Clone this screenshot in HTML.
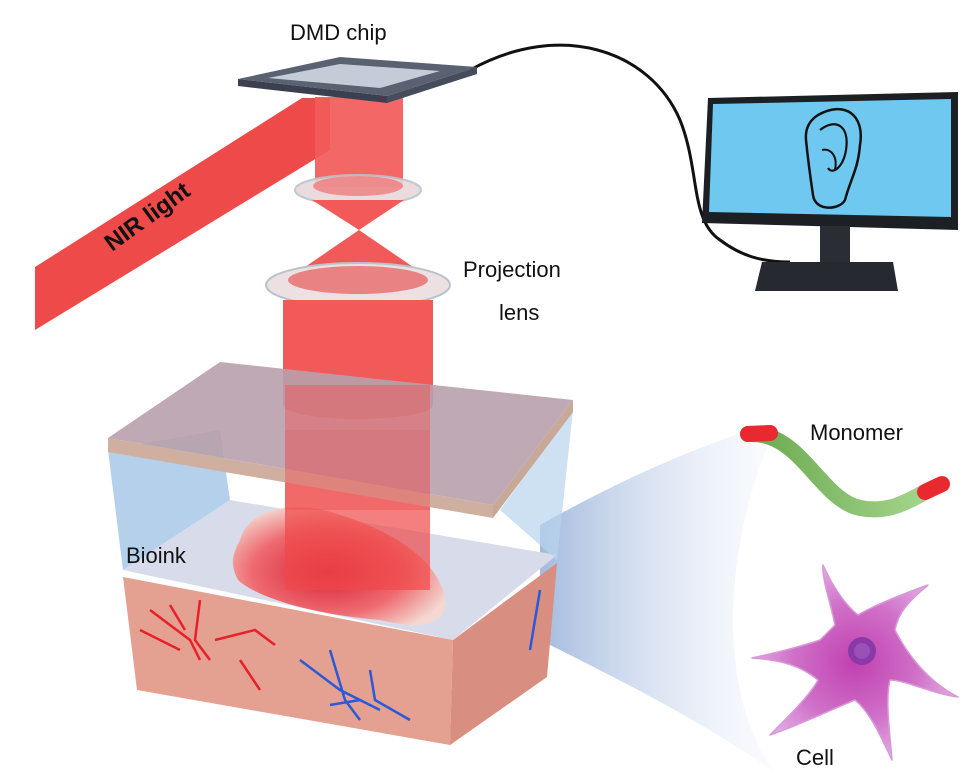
<!DOCTYPE html>
<html><head><meta charset="utf-8"><style>
html,body{margin:0;padding:0;background:#fff;}
svg{display:block;}
text{font-family:"Liberation Sans",Arial,sans-serif;}
</style></head><body>
<svg width="964" height="781" viewBox="0 0 964 781" xmlns="http://www.w3.org/2000/svg">
<defs>
<linearGradient id="cone" x1="0" y1="0" x2="1" y2="0">
<stop offset="0" stop-color="#7d9dd0" stop-opacity="0.7"/>
<stop offset="1" stop-color="#e8eef8" stop-opacity="0.2"/>
</linearGradient>
<linearGradient id="mon" x1="0" y1="0" x2="1" y2="0">
<stop offset="0" stop-color="#6aa84f"/><stop offset="1" stop-color="#a8d890"/>
</linearGradient>
<radialGradient id="ear" cx="0.45" cy="0.55" r="0.6">
<stop offset="0" stop-color="#d8203a"/><stop offset="0.6" stop-color="#ee6a70"/><stop offset="1" stop-color="#f4d8d0"/>
</radialGradient>
<radialGradient id="cell" cx="0.5" cy="0.5" r="0.5">
<stop offset="0" stop-color="#c040b0"/><stop offset="0.6" stop-color="#d070c8"/><stop offset="1" stop-color="#e0a8e0"/>
</radialGradient>
</defs>

<!-- blue cone to monomer/cell -->
<path d="M540,525 C620,480 690,450 750,430 L770,440 C720,560 720,700 775,772 C700,720 620,680 540,640 Z" fill="url(#cone)"/>

<!-- cable -->
<path d="M470,70 C560,20 650,50 680,120 C700,170 690,220 720,240 C740,255 760,262 790,262" fill="none" stroke="#111" stroke-width="3"/>

<!-- NIR beam -->
<polygon points="35,267 302,98 330,98 330,150 35,330" fill="#ee4a4a"/>
<text x="0" y="0" font-size="24" font-weight="bold" fill="#111" transform="translate(112,252) rotate(-36)">NIR light</text>

<!-- vertical beam top -->
<rect x="315" y="97" width="88" height="90" fill="#f25a5a" opacity="0.92"/>
<ellipse cx="358" cy="190" rx="63" ry="15" fill="#e8d8dc" stroke="#b8c4cc" stroke-width="2" opacity="0.9"/>
<ellipse cx="358" cy="186" rx="45" ry="10" fill="#f07070" opacity="0.7"/>
<polygon points="312,200 404,200 359,230" fill="#f25a5a"/>
<polygon points="359,230 283,282 435,282" fill="#f25a5a"/>
<ellipse cx="358" cy="285" rx="92" ry="22" fill="#ece0e2" stroke="#b8c4cc" stroke-width="2"/>
<ellipse cx="358" cy="280" rx="70" ry="14" fill="#e86a6a" opacity="0.8"/>
<rect x="283" y="300" width="150" height="105" fill="#f25a5a"/>
<ellipse cx="358" cy="405" rx="75" ry="14" fill="#f06868"/>

<!-- DMD chip -->
<polygon points="238,79 340,57 477,67 387,96" fill="#5a6272"/>
<polygon points="238,79 387,96 387,103 238,86" fill="#3a4050"/>
<polygon points="387,96 477,67 477,74 387,103" fill="#454c5c"/>
<polygon points="268,78 340,64 440,71 380,88" fill="#c4ccd8"/>
<text x="290" y="40" font-size="22" fill="#111">DMD chip</text>

<!-- monitor -->
<polygon points="708,98 958,92 958,230 702,223" fill="#1c1f24"/>
<polygon points="713,104 951,99 951,217 709,212" fill="#6ec8ef"/>
<rect x="820" y="226" width="30" height="40" fill="#2a2d33"/>
<polygon points="762,262 893,262 898,291 755,291" fill="#26292f"/>
<path d="M818,115 C845,100 865,115 860,145 C858,170 850,180 845,200 C840,210 815,212 813,195 C810,175 808,160 806,140 C805,128 810,120 818,115 Z" fill="none" stroke="#111" stroke-width="2.5"/>
<path d="M820,130 C835,118 850,125 846,150 C843,168 832,175 828,168" fill="none" stroke="#111" stroke-width="2.2"/>
<path d="M822,150 C830,148 838,155 835,170" fill="none" stroke="#111" stroke-width="2"/>

<text x="463" y="277" font-size="22" fill="#111">Projection</text>
<text x="499" y="320" font-size="22" fill="#111">lens</text>

<!-- box: bottom tissue -->
<polygon points="123,577 453,640 450,745 137,690" fill="#e4a090"/>
<polygon points="453,640 557,563 547,677 450,745" fill="#d88e80"/>
<polygon points="123,570 230,500 557,555 453,640" fill="#d8dcea"/>
<polygon points="108,450 123,570 230,500 220,430" fill="#a8c8e8" opacity="0.85"/>
<polygon points="500,510 557,560 573,410" fill="#b8d4ec" opacity="0.7"/>
<g fill="none" stroke="#e8202a" stroke-width="2.5">
<path d="M150,610 L190,640 L200,660 M170,605 L185,630 M200,600 L195,640 L210,660 M140,630 L180,650 M215,640 L255,630 L275,645 M240,660 L260,690"/>
</g>
<g fill="none" stroke="#2a5ad8" stroke-width="2.5">
<path d="M300,660 L340,690 L380,710 M330,650 L345,700 L360,720 M370,670 L375,700 L410,720 M360,700 L330,705 M540,590 L530,650"/>
</g>
<path d="M240,540 C250,505 300,500 340,515 C390,530 440,560 445,600 C448,625 420,630 380,620 C320,615 260,600 238,580 C230,565 232,555 240,540 Z" fill="url(#ear)"/>
<rect x="285" y="430" width="145" height="160" fill="#f04848" opacity="0.7"/>
<polygon points="108,438 220,362 573,400 493,505" fill="#b8a0ac" opacity="0.9"/>
<polygon points="108,438 493,505 493,518 108,452" fill="#cfb0a0"/>
<polygon points="493,505 573,400 573,412 493,518" fill="#c8a898"/>
<rect x="285" y="385" width="145" height="125" fill="#f05050" opacity="0.45"/>
<text x="126" y="563" font-size="22" fill="#111">Bioink</text>

<!-- monomer -->
<path d="M748,434 C800,430 820,500 860,508 C895,515 915,495 940,485" fill="none" stroke="url(#mon)" stroke-width="16" stroke-linecap="round"/>
<path d="M748,434 L770,433" stroke="#e82a30" stroke-width="16" stroke-linecap="round"/>
<path d="M925,492 L942,484" stroke="#e82a30" stroke-width="16" stroke-linecap="round"/>
<text x="810" y="440" font-size="22" fill="#111">Monomer</text>

<!-- cell -->
<path d="M835,625 C830,600 822,580 823,565 C832,585 845,605 858,615 C875,605 900,595 928,585 C910,600 898,612 895,630 C905,650 925,680 958,697 C930,693 905,680 890,680 C885,700 890,735 892,760 C880,735 870,712 855,700 C830,710 800,725 770,735 C790,715 810,695 818,680 C800,665 780,660 752,658 C780,652 805,645 820,640 Z" fill="url(#cell)" stroke="#d898d8" stroke-width="1.5" stroke-linejoin="round"/>
<circle cx="862" cy="651" r="14" fill="#8a3aa8"/>
<circle cx="862" cy="651" r="8" fill="#9a50b8"/>
<text x="796" y="765" font-size="22" fill="#111">Cell</text>
</svg>
</body></html>
